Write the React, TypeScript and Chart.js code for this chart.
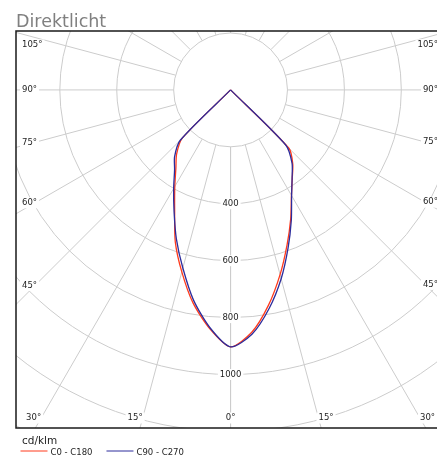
import React, { useEffect, useRef } from 'react';
import { Chart, registerables } from 'chart.js';

Chart.register(...registerables);

// ---- data ----
const TITLE = 'Direktlicht';
const UNIT = 'cd/klm';
const GAMMA = [0, 5, 10, 15, 20, 25, 30, 35, 40, 45, 50, 55, 60, 65, 70, 75, 80, 85, 90,
  95, 100, 105, 110, 115, 120, 125, 130, 135, 140, 145, 150, 155, 160, 165, 170, 175, 180];
// C0 - C180 plane (red): right half = C0, left half = C180
const C0 = [903, 855, 768, 672, 580, 500, 428, 378, 340, 290, 0, 0, 0, 0, 0, 0, 0, 0, 0,
  0, 0, 0, 0, 0, 0, 0, 0, 0, 0, 0, 0, 0, 0, 0, 0, 0, 0];
const C180 = [903, 842, 760, 662, 568, 465, 392, 335, 295, 240, 0, 0, 0, 0, 0, 0, 0, 0, 0,
  0, 0, 0, 0, 0, 0, 0, 0, 0, 0, 0, 0, 0, 0, 0, 0, 0, 0];
// C90 - C270 plane (blue): right half = C90, left half = C270
const C90 = [903, 862, 780, 687, 591, 505, 429, 377, 336, 275, 0, 0, 0, 0, 0, 0, 0, 0, 0,
  0, 0, 0, 0, 0, 0, 0, 0, 0, 0, 0, 0, 0, 0, 0, 0, 0, 0];
const C270 = [903, 838, 750, 648, 557, 470, 400, 343, 306, 250, 0, 0, 0, 0, 0, 0, 0, 0, 0,
  0, 0, 0, 0, 0, 0, 0, 0, 0, 0, 0, 0, 0, 0, 0, 0, 0, 0];
const SERIES_NAMES = ['C0 - C180', 'C90 - C270'];
const SERIES_COLORS = ['#ff3a1c', '#2c2c9c'];
const RING_VALUES = [200, 400, 600, 800, 1000, 1200, 1400, 1600];
const VALUE_LABELS = [400, 600, 800, 1000];
const SPOKE_ANGLES = [0, 15, 30, 45, 60, 75, 90, 105, 120, 135, 150, 165, 180];
const LABEL_ANGLES = [0, 15, 30, 45, 60, 75, 90, 105];

const GRID_COLOR = '#cccccc';
const TEXT_COLOR = '#1e1e1e';
const FONT = '"DejaVu Sans", Verdana, sans-serif';

function halfPlanePoints(left: number[], right: number[]) {
  const pts: { x: number; y: number }[] = [];
  for (let i = GAMMA.length - 1; i >= 0; i--) {
    const t = (GAMMA[i] * Math.PI) / 180;
    pts.push({ x: -left[i] * Math.sin(t), y: -left[i] * Math.cos(t) });
  }
  for (let i = 1; i < GAMMA.length; i++) {
    const t = (GAMMA[i] * Math.PI) / 180;
    pts.push({ x: right[i] * Math.sin(t), y: -right[i] * Math.cos(t) });
  }
  return pts;
}

function tag(ctx: CanvasRenderingContext2D, text: string, x: number, y: number, align: CanvasTextAlign) {
  const w = ctx.measureText(text).width;
  const left = align === 'left' ? x : align === 'right' ? x - w : x - w / 2;
  ctx.fillStyle = '#ffffff';
  ctx.fillRect(left - 2, y - 5.5, w + 4, 11);
  ctx.fillStyle = TEXT_COLOR;
  ctx.textAlign = align;
  ctx.textBaseline = 'middle';
  ctx.fillText(text, x, y);
}

const polarPlugin = {
  id: 'polarDiagram',
  beforeDatasetsDraw(chart: any) {
    const { ctx, chartArea: a, scales } = chart;
    const xs = scales.x;
    const ys = scales.y;
    const cx = xs.getPixelForValue(0);
    const cy = ys.getPixelForValue(0);
    const rad = (v: number) => xs.getPixelForValue(v) - cx;
    ctx.save();
    ctx.beginPath();
    ctx.rect(a.left, a.top, a.right - a.left, a.bottom - a.top);
    ctx.clip();
    ctx.strokeStyle = GRID_COLOR;
    ctx.lineWidth = 1;
    RING_VALUES.forEach((v) => {
      ctx.beginPath();
      ctx.arc(cx, cy, rad(v), 0, Math.PI * 2);
      ctx.stroke();
    });
    const rIn = rad(RING_VALUES[0]);
    const rOut = rad(RING_VALUES[RING_VALUES.length - 1]) * 1.5;
    SPOKE_ANGLES.forEach((g) => {
      const t = (g * Math.PI) / 180;
      [-1, 1].forEach((s) => {
        const ux = s * Math.sin(t);
        const uy = Math.cos(t);
        ctx.beginPath();
        ctx.moveTo(cx + ux * rIn, cy + uy * rIn);
        ctx.lineTo(cx + ux * rOut, cy + uy * rOut);
        ctx.stroke();
      });
    });

    // value labels along the 0° axis
    ctx.font = `8.5px ${FONT}`;
    VALUE_LABELS.forEach((v) => {
      tag(ctx, String(v), cx, ys.getPixelForValue(-v), 'center');
    });

    // angle labels at the frame
    LABEL_ANGLES.forEach((g) => {
      const t = (g * Math.PI) / 180;
      const sides = g === 0 ? [1] : [-1, 1];
      sides.forEach((s) => {
        const ux = g === 0 ? 0 : s * Math.sin(t);
        const uy = Math.cos(t);
        const txt = `${g}°`;
        let tSide = Infinity;
        if (Math.abs(ux) > 1e-9) tSide = ((ux < 0 ? a.left : a.right) - cx) / ux;
        let tBottom = Infinity;
        if (uy > 1e-9) tBottom = (a.bottom - cy) / uy;
        let tTop = Infinity;
        if (uy < -1e-9) tTop = (a.top - cy) / uy;
        if (tTop < tSide && tTop < tBottom) return;
        if (tSide <= tBottom) {
          const px = ux < 0 ? a.left + 19 : a.right - 19;
          let y = cy + (uy * (px - cx)) / ux;
          y = Math.max(a.top + 14, Math.min(a.bottom - 10, y));
          if (ux < 0) tag(ctx, txt, a.left + 6, y, 'left');
          else tag(ctx, txt, a.right - 6, y, 'right');
        } else {
          const y = a.bottom - 10;
          const x = cx + (ux * (y - cy)) / uy;
          tag(ctx, txt, x, y, g === 0 ? 'center' : s < 0 ? 'right' : 'left');
        }
      });
    });
    ctx.restore();
  },
  afterDatasetsDraw(chart: any) {
    const { ctx, chartArea: a } = chart;
    ctx.save();
    ctx.strokeStyle = '#1a1a1a';
    ctx.lineWidth = 1.5;
    ctx.strokeRect(a.left, a.top, a.right - a.left, a.bottom - a.top);
    ctx.restore();
  },
  afterDraw(chart: any) {
    const { ctx, chartArea: a } = chart;
    ctx.save();
    // title
    ctx.font = `17.5px ${FONT}`;
    ctx.fillStyle = '#808080';
    ctx.textAlign = 'left';
    ctx.textBaseline = 'alphabetic';
    ctx.fillText(TITLE, a.left, a.top - 3.7);
    // unit
    ctx.font = `10.5px ${FONT}`;
    ctx.fillStyle = TEXT_COLOR;
    ctx.textBaseline = 'middle';
    ctx.fillText(UNIT, a.left + 6, a.bottom + 13);
    // legend items
    ctx.font = `8.5px ${FONT}`;
    let x = a.left + 4.5;
    const y = a.bottom + 23;
    chart.data.datasets.forEach((ds: any) => {
      ctx.strokeStyle = ds.borderColor;
      ctx.lineWidth = 1;
      ctx.beginPath();
      ctx.moveTo(x, y);
      ctx.lineTo(x + 27, y);
      ctx.stroke();
      x += 30;
      ctx.fillStyle = TEXT_COLOR;
      ctx.textAlign = 'left';
      ctx.fillText(ds.label, x, y + 1.5);
      x += ctx.measureText(ds.label).width + 14;
    });
    ctx.restore();
  },
};

export default function App() {
  const ref = useRef<HTMLCanvasElement | null>(null);
  useEffect(() => {
    if (!ref.current) return;
    const chart = new Chart(ref.current, {
      type: 'scatter',
      data: {
        datasets: [
          {
            label: SERIES_NAMES[0],
            data: halfPlanePoints(C180, C0),
            borderColor: SERIES_COLORS[0],
            backgroundColor: SERIES_COLORS[0],
            showLine: true,
            pointRadius: 0,
            borderWidth: 1.3,
            tension: 0.25,
            fill: false,
            order: 2,
          },
          {
            label: SERIES_NAMES[1],
            data: halfPlanePoints(C270, C90),
            borderColor: SERIES_COLORS[1],
            backgroundColor: SERIES_COLORS[1],
            showLine: true,
            pointRadius: 0,
            borderWidth: 1.3,
            tension: 0.25,
            fill: false,
            order: 1,
          },
        ],
      },
      options: {
        animation: false,
        responsive: false,
        events: [],
        layout: { padding: { left: 16, top: 31, right: 8, bottom: 31 } },
        scales: {
          x: { type: 'linear', min: -754, max: 750, display: false },
          y: { type: 'linear', min: -1188, max: 207, display: false },
        },
        plugins: {
          legend: { display: false },
          tooltip: { enabled: false },
          title: { display: false },
        },
      },
      plugins: [polarPlugin],
    });
    return () => chart.destroy();
  }, []);
  return (
    <div style={{ position: 'fixed', left: 0, top: 0, width: 437, height: 459, overflow: 'hidden', background: '#fff' }}>
      <canvas ref={ref} width={452} height={459} style={{ display: 'block' }} />
    </div>
  );
}
